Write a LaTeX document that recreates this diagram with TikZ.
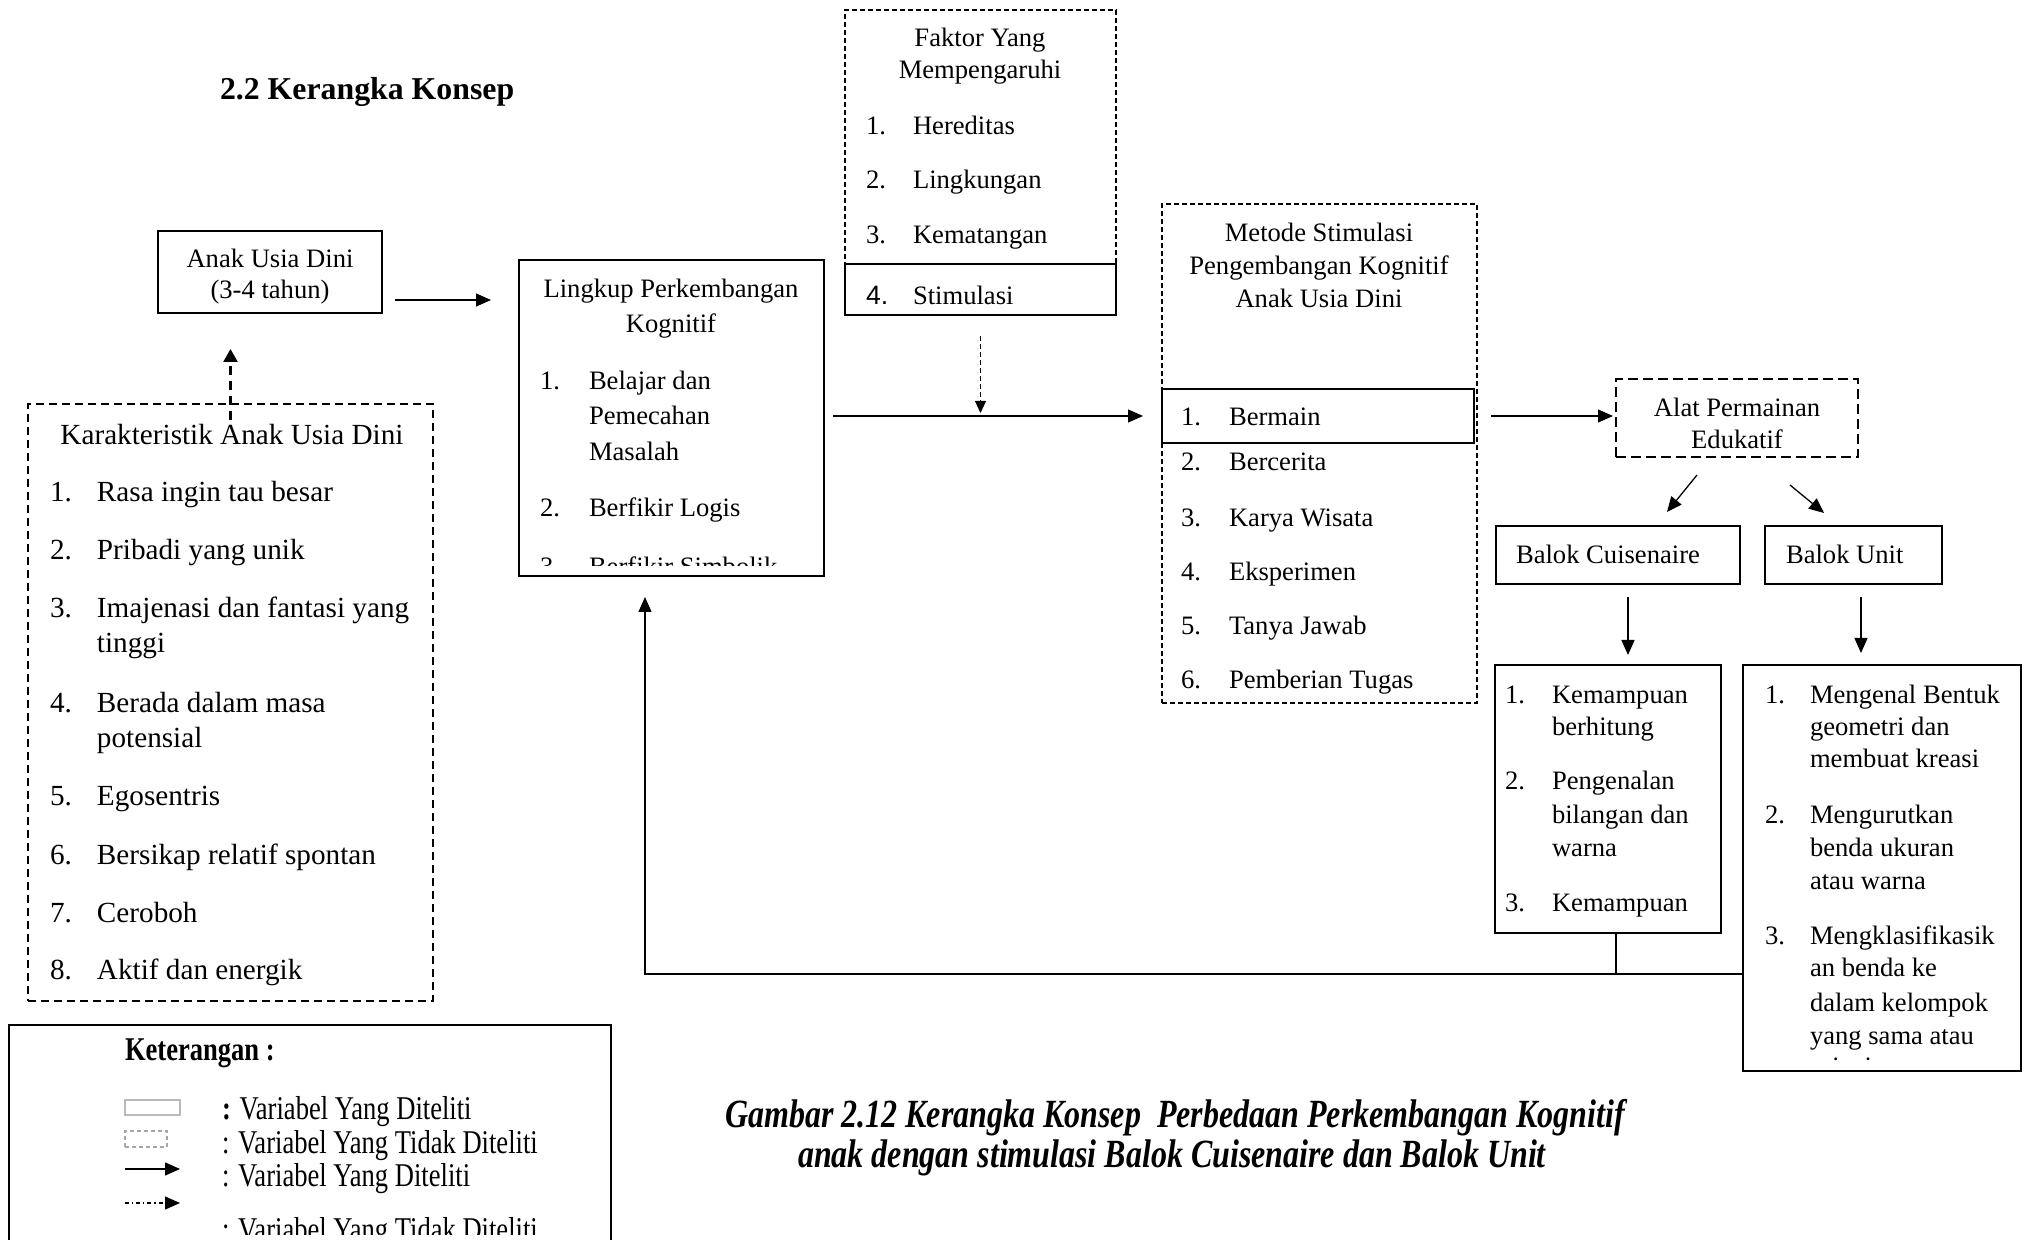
\documentclass[tikz,border=0pt]{standalone}
\usepackage{fontspec}
\usepackage{graphicx}
\setmainfont{Liberation Serif}
\newfontfamily\sansf{Liberation Sans}
\newfontfamily\cond[FakeStretch=0.8]{Liberation Serif}
\usetikzlibrary{arrows.meta,calc,fit}
\newcounter{tlc}
\newcommand\tx[4][txt]{\stepcounter{tlc}\node[#1] (T\arabic{tlc}) at (#2,#3) {#4};}
\begin{document}
\begin{tikzpicture}[x=0.5pt,y=-0.5pt,
  every node/.style={inner sep=0pt,outer sep=0pt},
  txt/.style={anchor=base west,yshift=-1.5pt,font=\fontsize{13.3}{16}\selectfont},
  ctxt/.style={anchor=base,yshift=-1.5pt,font=\fontsize{13.3}{16}\selectfont},
  ktxt/.style={anchor=base west,yshift=-1.5pt,font=\fontsize{14.6}{17}\selectfont},
  kctxt/.style={anchor=base,yshift=-1.5pt,font=\fontsize{14.6}{17}\selectfont},
  ltxt/.style={anchor=base west,font=\cond\fontsize{16.6}{19}\selectfont},
  captxt/.style={anchor=base,font=\cond\fontsize{20}{22}\selectfont\bfseries\itshape},
  sbox/.style={draw,line width=0.65pt},
  thbox/.style={draw,line width=1.3pt},
  kbox/.style={draw,line width=0.65pt,dash pattern=on 4pt off 2.5pt},
  fbox/.style={draw,line width=0.6pt,dash pattern=on 2.5pt off 1.5pt},
  abox/.style={draw,line width=0.65pt,dash pattern=on 5pt off 2.5pt},
  arr/.style={-{Triangle[length=7.5pt,width=6.5pt]},line width=0.65pt},
  darr/.style={-{Triangle[length=6.5pt,width=7pt]},line width=1.2pt,dash pattern=on 4.5pt off 3pt},
  farr/.style={-{Triangle[length=6pt,width=5.5pt]},line width=0.6pt,dash pattern=on 2.5pt off 1.5pt},
]
\useasboundingbox (0,0) rectangle (2026,1240);
\clip (0,0) rectangle (2026,1240);
\fill[white] (0,0) rectangle (2026,1240);

% title
\node[anchor=base west,font=\fontsize{15.9}{18}\selectfont\bfseries] (title) at (220,100) {2.2 Kerangka Konsep};

% Anak Usia Dini
\node[sbox,fit={(158,231) (382,313)}] (anak) {};
\tx[ctxt]{270}{265}{Anak Usia Dini}
\tx[ctxt]{270}{296}{(3-4 tahun)}

% Karakteristik
\node[kbox,fit={(28,404) (433,1001)}] (kar) {};
\tx[kctxt]{232}{442}{Karakteristik Anak Usia Dini}
\tx[ktxt]{50}{499}{1.}\tx[ktxt]{97}{499}{Rasa ingin tau besar}
\tx[ktxt]{50}{557}{2.}\tx[ktxt]{97}{557}{Pribadi yang unik}
\tx[ktxt]{50}{615}{3.}\tx[ktxt]{97}{615}{Imajenasi dan fantasi yang}
\tx[ktxt]{97}{650}{tinggi}
\tx[ktxt]{50}{710}{4.}\tx[ktxt]{97}{710}{Berada dalam masa}
\tx[ktxt]{97}{745}{potensial}
\tx[ktxt]{50}{803}{5.}\tx[ktxt]{97}{803}{Egosentris}
\tx[ktxt]{50}{861}{6.}\tx[ktxt]{97}{861}{Bersikap relatif spontan}
\tx[ktxt]{50}{919}{7.}\tx[ktxt]{97}{919}{Ceroboh}
\tx[ktxt]{50}{976}{8.}\tx[ktxt]{97}{976}{Aktif dan energik}

% Lingkup
\node[thbox,fit={(519,260) (824,576)}] (ling) {};
\tx[ctxt]{671}{295}{Lingkup Perkembangan}
\tx[ctxt]{671}{330}{Kognitif}
\tx{540}{387}{1.}\tx{589}{387}{Belajar dan}
\tx{589}{422}{Pemecahan}
\tx{589}{458}{Masalah}
\tx{540}{514}{2.}\tx{589}{514}{Berfikir Logis}
\begin{scope}
\clip (521,262) rectangle (822,566);
\tx{540}{573}{3.}\tx{589}{573}{Berfikir Simbolik}
\end{scope}

% Faktor
\node[fbox,fit={(845,10) (1116,264)}] (faktor) {};
\node[sbox,fit={(845,264) (1116,315)}] (stim) {};
\tx[ctxt]{980}{44}{Faktor Yang}
\tx[ctxt]{980}{76}{Mempengaruhi}
\tx{866}{132}{1.}\tx{913}{132}{Hereditas}
\tx{866}{186}{2.}\tx{913}{186}{Lingkungan}
\tx{866}{241}{3.}\tx{913}{241}{Kematangan}
\tx[txt,font=\sansf\fontsize{13.3}{16}\selectfont]{866}{302}{4.}\tx{913}{302}{Stimulasi}

% Metode
\node[fbox,fit={(1162,204) (1477,703)}] (metode) {};
\node[sbox,fit={(1162,389) (1474,443)}] (bermain) {};
\tx[ctxt]{1319}{239}{Metode Stimulasi}
\tx[ctxt]{1319}{272}{Pengembangan Kognitif}
\tx[ctxt]{1319}{305}{Anak Usia Dini}
\tx{1181}{423}{1.}\tx{1229}{423}{Bermain}
\tx{1181}{468}{2.}\tx{1229}{468}{Bercerita}
\tx{1181}{524}{3.}\tx{1229}{524}{Karya Wisata}
\tx{1181}{578}{4.}\tx{1229}{578}{Eksperimen}
\tx{1181}{632}{5.}\tx{1229}{632}{Tanya Jawab}
\tx{1181}{686}{6.}\tx{1229}{686}{Pemberian Tugas}

% Alat
\node[abox,fit={(1616,379) (1858,457)}] (alat) {};
\tx[ctxt]{1737}{414}{Alat Permainan}
\tx[ctxt]{1737}{446}{Edukatif}

% Balok boxes
\node[sbox,fit={(1496,526) (1740,584)}] (cuis) {};
\tx{1516}{561}{Balok Cuisenaire}
\node[sbox,fit={(1765,526) (1942,584)}] (unit) {};
\tx{1786}{561}{Balok Unit}

% Cuisenaire list
\node[sbox,fit={(1495,665) (1721,933)}] (cuislist) {};
\tx{1505}{701}{1.}\tx{1552}{701}{Kemampuan}
\tx{1552}{733}{berhitung}
\tx{1505}{787}{2.}\tx{1552}{787}{Pengenalan}
\tx{1552}{821}{bilangan dan}
\tx{1552}{854}{warna}
\tx{1505}{909}{3.}\tx{1552}{909}{Kemampuan}

% Unit list
\node[sbox,fit={(1743,665) (2021,1071)}] (unitlist) {};
\tx{1765}{701}{1.}\tx{1810}{701}{Mengenal Bentuk}
\tx{1810}{733}{geometri dan}
\tx{1810}{765}{membuat kreasi}
\tx{1765}{821}{2.}\tx{1810}{821}{Mengurutkan}
\tx{1810}{854}{benda ukuran}
\tx{1810}{887}{atau warna}
\tx{1765}{941}{3.}\tx{1810}{941}{Mengklasifikasik}
\tx{1810}{974}{an benda ke}
\tx{1810}{1008}{dalam kelompok}
\tx{1810}{1041}{yang sama atau}
\begin{scope}
\clip (1745,1048) rectangle (2019,1060);
\tx{1810}{1072}{sejenis}
\end{scope}

% connectors
\path (anak.east) ++(13,28) coordinate (p1);
\draw[arr] (p1) -- ([xshift=-14pt]ling.west |- p1);
\draw[darr] ([yshift=-8pt]kar.north) -- ([yshift=-18pt]kar.north |- anak.south);
\draw[arr] ([xshift=4.5pt]ling.east |- bermain.west) -- ([xshift=-9.5pt]bermain.west);
\draw[farr] ([yshift=-10.5pt]stim.south) -- ([yshift=1.5pt]stim.south |- bermain.west);
\draw[arr] ([xshift=8.5pt]bermain.east) -- ([xshift=-1.5pt]alat.west |- bermain.east);
\draw[arr] ($(alat.south)+(-40,18)$) -- ($(cuis.north)+(49,-14)$);
\draw[arr] ($(alat.south)+(53,28)$) -- ($(unit.north)+(-29.5,-13)$);
\path ($(cuis.south)+(10,13)$) coordinate (c1);
\draw[arr] (c1) -- ([yshift=5pt]c1 |- cuislist.north);
\path ($(unit.south)+(7.5,13)$) coordinate (u1);
\draw[arr] (u1) -- ([yshift=6pt]u1 |- unitlist.north);
\path ($(cuislist.south)+(8,0)$) coordinate (c3);
\path (c3) ++(0,41) coordinate (fb);
\draw[line width=0.65pt] (c3) -- (fb);
\path ($(ling.south)+(-26.5,0)$) coordinate (fbL);
\draw[arr] (unitlist.west |- fb) -| ([yshift=-10.5pt]fbL);

% legend
\node[sbox,fit={(9,1025) (611,1280)}] (legend) {};
\node[anchor=base west,font=\cond\fontsize{16.6}{19}\selectfont\bfseries] (ket) at (125,1060) {Keterangan :};
\node[draw=gray!55,line width=0.6pt,fit={(125,1100) (180,1115)}] (sym1) {};
\node[draw=gray!70,line width=0.6pt,dash pattern=on 2pt off 1.5pt,fit={(125,1131) (167,1147)}] (sym2) {};
\coordinate (sym3) at (125,1169);
\draw[arr] (sym3) -- ++(55,0);
\coordinate (sym4) at (125,1203);
\draw[arr,dash pattern=on 2pt off 1.5pt on 0.6pt off 1.5pt] (sym4) -- ++(55,0);
\tx[ltxt]{222}{1119}{\textbf{:} Variabel Yang Diteliti}
\tx[ltxt]{222}{1153}{: Variabel Yang Tidak Diteliti}
\tx[ltxt]{222}{1186}{: Variabel Yang Diteliti}
\begin{scope}
\clip (200,1210) rectangle (600,1234);
\tx[ltxt]{222}{1240}{: Variabel Yang Tidak Diteliti}
\end{scope}

% caption
\tx[captxt]{1175}{1127}{Gambar 2.12 Kerangka Konsep~ Perbedaan Perkembangan Kognitif}
\tx[captxt]{1172}{1167}{anak dengan stimulasi Balok Cuisenaire dan Balok Unit}
\end{tikzpicture}
\end{document}
